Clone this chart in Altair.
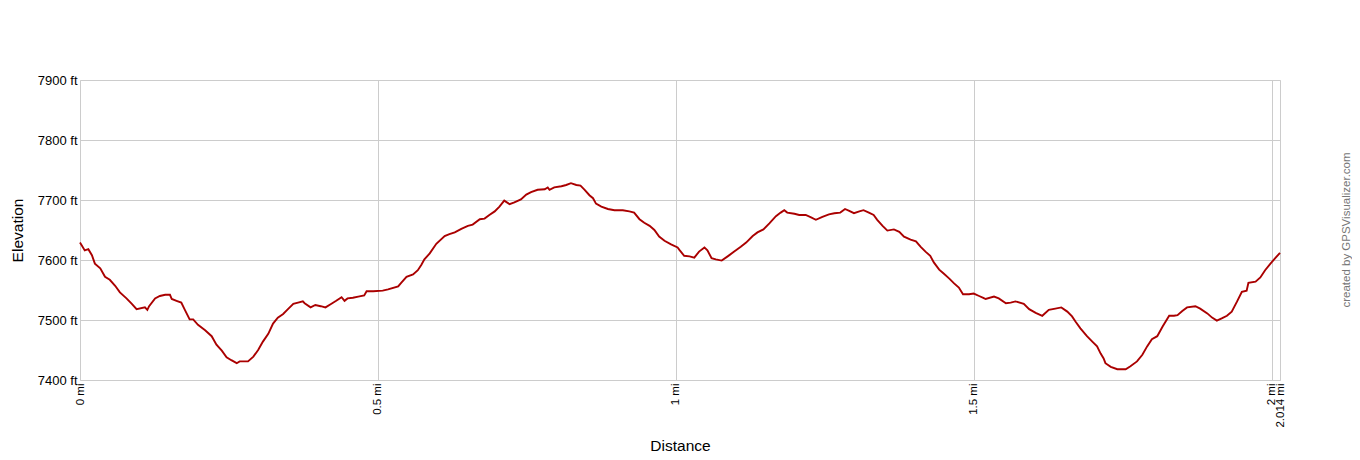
import altair as alt
import pandas as pd

dist_mi = [
    0.000, 0.008, 0.014, 0.020, 0.025, 0.034, 0.042, 0.050, 0.059, 0.067,
    0.078, 0.087, 0.095, 0.109, 0.113, 0.116, 0.126, 0.134, 0.143, 0.151,
    0.154, 0.162, 0.170, 0.176, 0.184, 0.190, 0.198, 0.210, 0.221, 0.229,
    0.238, 0.246, 0.254, 0.263, 0.268, 0.282, 0.291, 0.299, 0.307, 0.316,
    0.324, 0.332, 0.341, 0.349, 0.358, 0.366, 0.374, 0.377, 0.387, 0.395,
    0.404, 0.412, 0.422, 0.430, 0.439, 0.444, 0.449, 0.458, 0.467, 0.477,
    0.481, 0.492, 0.508,
    0.517, 0.534, 0.539, 0.548, 0.559, 0.567, 0.573, 0.578, 0.587, 0.598,
    0.612, 0.620, 0.629, 0.640, 0.651, 0.659, 0.671, 0.679, 0.687, 0.696,
    0.704, 0.712, 0.721, 0.729, 0.740, 0.749, 0.757, 0.768, 0.780, 0.785,
    0.788, 0.796, 0.808, 0.816, 0.824, 0.833, 0.840, 0.847, 0.855, 0.861,
    0.866, 0.875, 0.886, 0.897, 0.911, 0.922, 0.930, 0.939, 0.947, 0.956,
    0.964, 0.972, 0.981, 0.992, 1.003,
    1.006, 1.014, 1.023, 1.031, 1.039, 1.048, 1.053, 1.060, 1.067, 1.077,
    1.087, 1.098, 1.109, 1.118, 1.129, 1.137, 1.147, 1.157, 1.168, 1.176,
    1.182, 1.187, 1.199, 1.207, 1.218, 1.227, 1.235, 1.246, 1.257, 1.266,
    1.276, 1.284, 1.291, 1.299, 1.308, 1.315, 1.324, 1.332, 1.338, 1.347,
    1.355, 1.366, 1.375, 1.383, 1.394, 1.403, 1.411, 1.419, 1.427, 1.433,
    1.442, 1.450, 1.459, 1.467, 1.475, 1.482, 1.492, 1.500, 1.509, 1.516,
    1.520, 1.534, 1.542, 1.554, 1.562, 1.570, 1.584, 1.593, 1.604, 1.615,
    1.626, 1.637, 1.647, 1.657, 1.665, 1.671, 1.679, 1.690, 1.699, 1.707,
    1.713, 1.718, 1.721, 1.730, 1.741, 1.755, 1.763, 1.774, 1.783, 1.791,
    1.799, 1.808, 1.817, 1.828, 1.836, 1.842, 1.850, 1.858, 1.872, 1.880,
    1.892, 1.900, 1.908, 1.917, 1.925, 1.933, 1.942, 1.950, 1.958, 1.961,
    1.973, 1.981, 1.989, 1.998, 2.006, 2.014,
]

elev_ft = [
    7629, 7616, 7618, 7608, 7594, 7586, 7572, 7567, 7557, 7546,
    7536, 7527, 7518, 7521, 7517, 7523, 7536, 7540, 7542, 7542,
    7535, 7532, 7529, 7517, 7501, 7501, 7492, 7483, 7473, 7459,
    7449, 7438, 7433, 7428, 7431, 7431, 7439, 7450, 7464, 7477,
    7494, 7504, 7510, 7518, 7527, 7529, 7531, 7528, 7521, 7525,
    7523, 7521, 7527, 7532, 7538, 7532, 7536, 7537, 7539, 7541,
    7548, 7548, 7549,
    7551, 7556, 7562, 7572, 7576, 7583, 7592, 7601, 7611, 7627,
    7640, 7643, 7646, 7652, 7657, 7659, 7668, 7669, 7675, 7681,
    7689, 7699, 7693, 7696, 7701, 7709, 7713, 7717, 7718, 7721,
    7717, 7721, 7723, 7725, 7728, 7725, 7724, 7717, 7708, 7703,
    7694, 7689, 7685, 7683, 7683, 7681, 7679, 7668, 7662, 7657,
    7650, 7639, 7632, 7626, 7621,
    7617, 7607, 7606, 7604, 7614, 7621, 7616, 7603, 7601, 7599,
    7606, 7614, 7622, 7629, 7640, 7646, 7651, 7661, 7673, 7679,
    7683, 7679, 7677, 7675, 7675, 7671, 7667, 7672, 7676, 7678,
    7679, 7685, 7682, 7678, 7681, 7683, 7679, 7675, 7667, 7657,
    7649, 7651, 7647, 7639, 7634, 7631, 7622, 7614, 7607, 7596,
    7584, 7577, 7569, 7561, 7554, 7543, 7543, 7544, 7540, 7537,
    7535, 7539, 7536, 7528, 7529, 7531, 7527, 7518, 7512, 7507,
    7517, 7519, 7521, 7514, 7506, 7497, 7486, 7473, 7464, 7456,
    7444, 7436, 7428, 7422, 7418, 7418, 7423, 7431, 7442, 7456,
    7468, 7473, 7489, 7507, 7507, 7508, 7515, 7521, 7523, 7519,
    7511, 7504, 7499, 7503, 7507, 7514, 7531, 7547, 7549, 7562,
    7564, 7571, 7583, 7594, 7603, 7612,
]

x_ticks = [0, 0.5, 1, 1.5, 2, 2.014]
y_ticks = [7400, 7500, 7600, 7700, 7800, 7900]
credit_text = ["created by GPSVisualizer.com"]

FONT = "Liberation Sans"
GRID = "#cccccc"

df = pd.DataFrame({"dist": dist_mi, "elev": elev_ft})

line = alt.Chart(df).mark_line(color="#aa0000", strokeWidth=1.9).encode(
    x=alt.X(
        "dist:Q",
        scale=alt.Scale(domain=[0, 2.014], nice=False, zero=False),
        axis=alt.Axis(
            values=x_ticks,
            labelExpr="datum.value + ' mi'",
            labelAngle=270,
            labelAlign="right",
            labelBaseline="middle",
            labelPadding=3,
            labelFlush=False,
            labelOverlap=False,
            labelFont=FONT,
            labelFontSize=11.5,
            labelColor="#000000",
            ticks=False,
            domain=False,
            grid=True,
            gridColor=GRID,
            gridWidth=1,
            title="Distance",
            titleFont=FONT,
            titleFontSize=15.5,
            titleFontWeight="normal",
            titleColor="#000000",
            titleX=600,
            titleY=70,
            titleBaseline="alphabetic",
            titleAlign="center",
        ),
    ),
    y=alt.Y(
        "elev:Q",
        scale=alt.Scale(domain=[7400, 7900], nice=False, zero=False),
        axis=alt.Axis(
            values=y_ticks,
            labelExpr="datum.value + ' ft'",
            labelPadding=3,
            labelFlush=False,
            labelOverlap=False,
            labelFont=FONT,
            labelFontSize=13,
            labelColor="#000000",
            ticks=False,
            domain=False,
            grid=True,
            gridColor=GRID,
            gridWidth=1,
            title="Elevation",
            titleFont=FONT,
            titleFontSize=15.5,
            titleFontWeight="normal",
            titleColor="#000000",
            titleAngle=270,
            titleX=-63,
            titleY=150,
            titleAlign="center",
            titleBaseline="middle",
        ),
    ),
)

credit = alt.Chart(pd.DataFrame({"t": credit_text})).mark_text(
    angle=270,
    align="center",
    baseline="middle",
    font=FONT,
    fontSize=11.5,
    color="#777777",
).encode(
    text="t:N",
    x=alt.value(1267),
    y=alt.value(150),
)

chart = (
    alt.layer(line, credit)
    .properties(
        width=1200,
        height=300,
        autosize=alt.AutoSizeParams(type="none"),
        padding={"left": 72, "top": 72, "right": 72, "bottom": 72},
    )
    .configure_view(stroke=GRID, strokeWidth=1)
    .configure(background="white")
)

chart.save("out.html", embed_options={"renderer": "svg", "actions": False})
